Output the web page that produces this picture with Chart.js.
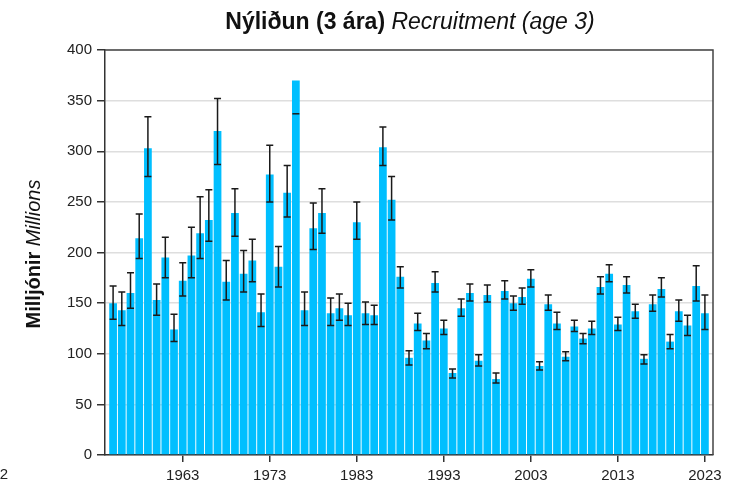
<!DOCTYPE html>
<html>
<head>
<meta charset="utf-8">
<script src="https://cdn.jsdelivr.net/npm/chart.js@4.4.1/dist/chart.umd.min.js"></script>
<style>
  html, body { margin: 0; padding: 0; background: #fff; }
  #wrap { width: 735px; height: 484px; }
</style>
</head>
<body>
<div id="wrap"><canvas id="recruitChart" width="735" height="484"></canvas></div>
<script>
// Recruitment (age 3), millions, with upper/lower error limits
const years = [
    1955, 1956, 1957, 1958, 1959, 1960, 1961, 1962, 1963, 1964,
    1965, 1966, 1967, 1968, 1969, 1970, 1971, 1972, 1973, 1974,
    1975, 1976, 1977, 1978, 1979, 1980, 1981, 1982, 1983, 1984,
    1985, 1986, 1987, 1988, 1989, 1990, 1991, 1992, 1993, 1994,
    1995, 1996, 1997, 1998, 1999, 2000, 2001, 2002, 2003, 2004,
    2005, 2006, 2007, 2008, 2009, 2010, 2011, 2012, 2013, 2014,
    2015, 2016, 2017, 2018, 2019, 2020, 2021, 2022, 2023
];
const recruitment = [
    150, 143, 160, 214, 303, 153, 195, 124, 172, 197,
    219, 232, 320, 171, 239, 179, 192, 141, 277, 186,
    259, 370, 143, 224, 239, 140, 145, 138, 230, 140,
    138, 304, 252, 176, 96, 130, 113, 170, 125, 81,
    145, 160, 93, 158, 75, 162, 150, 156, 174, 88,
    149, 130, 97, 127, 115, 125, 166, 179, 129, 168,
    142, 95, 149, 164, 112, 142, 128, 167, 140
];
// 1976 has no visible upper limit (only the lower cap shows)
const errUpper = [
    167, 161, 180, 238, 334, 169, 215, 139, 190, 225,
    255, 262, 352, 192, 263, 202, 213, 159, 306, 206,
    286, null, 161, 249, 263, 155, 159, 150, 250, 151,
    148, 324, 275, 186, 103, 140, 120, 181, 133, 85,
    154, 169, 99, 168, 81, 172, 157, 165, 183, 92,
    158, 141, 102, 133, 120, 132, 176, 188, 136, 176,
    149, 99, 158, 175, 119, 153, 138, 187, 158
];
const errLower = [
    134, 128, 145, 194, 275, 138, 175, 112, 157, 175,
    194, 211, 287, 153, 216, 161, 171, 127, 250, 166,
    235, 337, 128, 203, 219, 128, 133, 128, 213, 129,
    129, 286, 232, 165, 89, 123, 105, 161, 119, 76,
    137, 152, 88, 151, 71, 154, 143, 149, 166, 84,
    143, 124, 93, 122, 110, 119, 159, 171, 123, 160,
    135, 90, 142, 156, 105, 132, 118, 152, 124
];
const xTickYears = [1963, 1973, 1983, 1993, 2003, 2013, 2023];
const yTicks = [0, 50, 100, 150, 200, 250, 300, 350, 400];

const FONT = "'Liberation Sans', Arial, Helvetica, sans-serif";

// draws whiskers, frame and the mixed bold/italic titles
const extrasPlugin = {
    id: 'extras',
    afterDatasetsDraw(chart) {
        const ctx = chart.ctx;
        const area = chart.chartArea;
        const yScale = chart.scales.y;
        const meta = chart.getDatasetMeta(0);
        ctx.save();
        ctx.beginPath();
        ctx.rect(area.left, area.top, area.right - area.left, area.bottom - area.top);
        ctx.clip();
        ctx.strokeStyle = '#1a1a1a';
        ctx.lineWidth = 1.5;
        const cap = 3.5;
        meta.data.forEach((bar, i) => {
            const x = bar.x;
            const yLo = yScale.getPixelForValue(errLower[i]);
            ctx.beginPath();
            if (errUpper[i] !== null) {
                const yHi = yScale.getPixelForValue(errUpper[i]);
                ctx.moveTo(x, yHi); ctx.lineTo(x, yLo);
                ctx.moveTo(x - cap, yHi); ctx.lineTo(x + cap, yHi);
            }
            ctx.moveTo(x - cap, yLo); ctx.lineTo(x + cap, yLo);
            ctx.stroke();
        });
        ctx.restore();
    },
    afterDraw(chart) {
        const ctx = chart.ctx;
        const area = chart.chartArea;
        ctx.save();
        // top and right frame
        ctx.strokeStyle = '#444';
        ctx.lineWidth = 1.5;
        ctx.beginPath();
        ctx.moveTo(area.left, area.top);
        ctx.lineTo(area.right, area.top);
        ctx.lineTo(area.right, area.bottom);
        ctx.stroke();

        // main title
        ctx.fillStyle = '#111';
        ctx.textBaseline = 'alphabetic';
        ctx.textAlign = 'left';
        const boldT = 'Nýliðun (3 ára) ';
        const italT = 'Recruitment (age 3)';
        ctx.font = 'bold 23px ' + FONT;
        const w1 = ctx.measureText(boldT).width;
        ctx.font = 'italic 23px ' + FONT;
        const w2 = ctx.measureText(italT).width;
        const tx = 410 - (w1 + w2) / 2;
        ctx.font = 'bold 23px ' + FONT;
        ctx.fillText(boldT, tx, 29);
        ctx.font = 'italic 23px ' + FONT;
        ctx.fillText(italT, tx + w1, 29);

        // y-axis title
        const boldY = 'Milljónir ';
        const italY = 'Millions';
        ctx.font = 'bold 20px ' + FONT;
        const v1 = ctx.measureText(boldY).width;
        ctx.font = 'italic 20px ' + FONT;
        const v2 = ctx.measureText(italY).width;
        ctx.translate(40, 254);
        ctx.rotate(-Math.PI / 2);
        ctx.font = 'bold 20px ' + FONT;
        ctx.fillText(boldY, -(v1 + v2) / 2, 0);
        ctx.font = 'italic 20px ' + FONT;
        ctx.fillText(italY, -(v1 + v2) / 2 + v1, 0);
        ctx.restore();

        // stray clipped label at the bottom-left edge
        ctx.save();
        ctx.fillStyle = '#222';
        ctx.font = '15px ' + FONT;
        ctx.textAlign = 'right';
        ctx.textBaseline = 'middle';
        ctx.fillText('2', 8, 475);
        ctx.restore();
    }
};

function initRecruitChart() {
    const ctx = document.getElementById('recruitChart').getContext('2d');
    const points = years.map((yr, i) => ({ x: yr, y: recruitment[i] }));

    new Chart(ctx, {
        type: 'bar',
        data: {
            datasets: [{
                label: 'Recruitment',
                data: points,
                backgroundColor: '#00bfff',
                borderWidth: 0,
                barPercentage: 0.89,
                categoryPercentage: 1.0
            }]
        },
        options: {
            responsive: false,
            animation: false,
            layout: { padding: { top: 50, right: 22, left: 0, bottom: 0 } },
            plugins: {
                legend: { display: false },
                tooltip: { enabled: false },
                title: { display: false }
            },
            scales: {
                x: {
                    type: 'linear',
                    min: 1954.07,
                    max: 2023.93,
                    offset: false,
                    afterBuildTicks: scale => {
                        scale.ticks = xTickYears.map(v => ({ value: v }));
                    },
                    afterFit: scale => { scale.height = 29; },
                    ticks: {
                        color: '#222',
                        font: { family: FONT, size: 15 },
                        padding: 5,
                        maxRotation: 0,
                        callback: v => String(v)
                    },
                    grid: {
                        display: true,
                        offset: false,
                        drawOnChartArea: false,
                        drawTicks: true,
                        tickLength: 7,
                        tickColor: '#333',
                        lineWidth: 1.5
                    },
                    border: { display: true, color: '#333', width: 1.5 }
                },
                y: {
                    min: 0,
                    max: 400,
                    afterBuildTicks: scale => {
                        scale.ticks = yTicks.map(v => ({ value: v }));
                    },
                    afterFit: scale => { scale.width = 105; },
                    ticks: {
                        color: '#222',
                        font: { family: FONT, size: 15 },
                        padding: 5
                    },
                    grid: {
                        color: '#dedede',
                        lineWidth: 1.5,
                        drawTicks: true,
                        tickLength: 8,
                        tickColor: '#333'
                    },
                    border: { display: true, color: '#333', width: 1.5 }
                }
            }
        },
        plugins: [extrasPlugin]
    });
}

document.addEventListener('DOMContentLoaded', initRecruitChart);
</script>
</body>
</html>
